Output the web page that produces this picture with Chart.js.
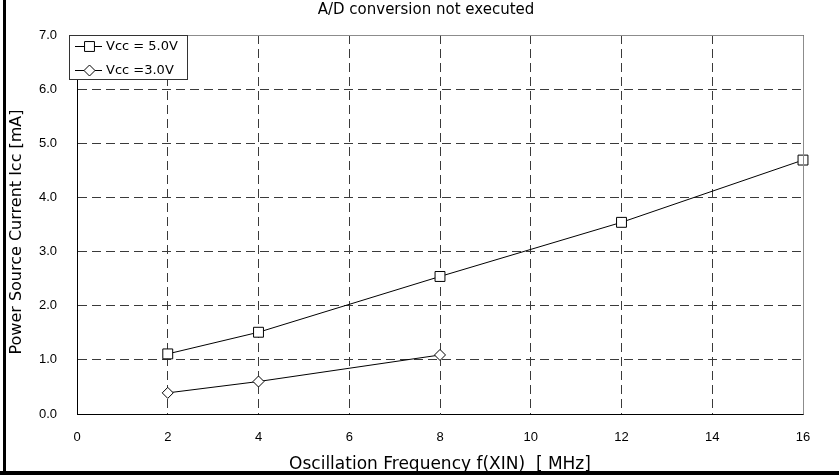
<!DOCTYPE html>
<html>
<head>
<meta charset="utf-8">
<script src="https://cdn.jsdelivr.net/npm/chart.js@4/dist/chart.umd.min.js"></script>
<style>
  html, body { margin: 0; padding: 0; background: #fff; }
  #wrap { width: 839px; height: 475px; position: relative; }
</style>
</head>
<body>
<div id="wrap"><canvas id="c" width="839" height="475"></canvas></div>
<script>
// ---- data ----
const chartTitle = "A/D conversion not executed";
const xTitle = "Oscillation Frequency f(XIN)  [ MHz]";
const yTitle = "Power Source Current Icc [mA]";
const seriesLabels = ["Vcc = 5.0V", "Vcc =3.0V"];
const freq5 = [2, 4, 8, 12, 16];
const icc5 = [1.11, 1.51, 2.54, 3.54, 4.69];
const freq3 = [2, 4, 8];
const icc3 = [0.39, 0.60, 1.09];
const xTicks = [0, 2, 4, 6, 8, 10, 12, 14, 16];
const yTicks = [0, 1, 2, 3, 4, 5, 6, 7];

const SANS = "'Liberation Sans', Arial, sans-serif";
const WIDE = "'DejaVu Sans', sans-serif";

function toPts(xs, ys) { return xs.map((x, i) => ({ x: x, y: ys[i] })); }

const frameAndLegend = {
  id: 'frameAndLegend',
  beforeDraw(chart) {
    const ctx = chart.ctx;
    ctx.save();
    ctx.fillStyle = '#fff';
    ctx.fillRect(0, 0, chart.width, chart.height);
    ctx.restore();
  },
  afterDraw(chart) {
    const ctx = chart.ctx;
    const a = chart.chartArea;
    ctx.save();
    // chart title
    ctx.fillStyle = '#000';
    ctx.font = '15px ' + WIDE;
    ctx.textAlign = 'center';
    ctx.textBaseline = 'middle';
    ctx.fillText(chartTitle, 426, 10);

    // y axis title (rotated)
    ctx.save();
    ctx.translate(17, 232);
    ctx.rotate(-Math.PI / 2);
    ctx.font = '16px ' + WIDE;
    ctx.textAlign = 'center';
    ctx.textBaseline = 'middle';
    ctx.fillText(yTitle, 0, 0);
    ctx.restore();

    // top & right plot edges (gray)
    ctx.strokeStyle = '#8c8c8c';
    ctx.lineWidth = 1;
    ctx.setLineDash([]);
    ctx.beginPath();
    ctx.moveTo(Math.round(a.left) + 0.5, Math.round(a.top) + 0.5);
    ctx.lineTo(Math.round(a.right) + 0.5, Math.round(a.top) + 0.5);
    ctx.lineTo(Math.round(a.right) + 0.5, Math.round(a.bottom) + 0.5);
    ctx.stroke();
    // outer frame: left and bottom thick black
    ctx.fillStyle = '#000';
    ctx.fillRect(3, 0, 3, chart.height);
    ctx.fillRect(0, 471, chart.width, 4);

    // legend box
    const bx = 69.5, by = 35.5, bw = 118, bh = 44;
    ctx.fillStyle = '#fff';
    ctx.fillRect(bx, by, bw, bh);
    ctx.strokeStyle = '#333';
    ctx.lineWidth = 1;
    ctx.strokeRect(bx, by, bw, bh);
    const rows = [46.5, 70.5];
    chart.data.datasets.forEach((ds, i) => {
      const y = rows[i];
      ctx.strokeStyle = '#000';
      ctx.lineWidth = 1;
      ctx.beginPath();
      ctx.moveTo(75, y);
      ctx.lineTo(102, y);
      ctx.stroke();
      ctx.fillStyle = '#fff';
      ctx.beginPath();
      const cx = 89.5;
      if (ds.pointStyle === 'rect') {
        const s = ds.pointRadius * Math.SQRT1_2;
        ctx.rect(cx - s, y - s, 2 * s, 2 * s);
      } else {
        const r = ds.pointRadius;
        ctx.moveTo(cx, y - r);
        ctx.lineTo(cx + r, y);
        ctx.lineTo(cx, y + r);
        ctx.lineTo(cx - r, y);
        ctx.closePath();
      }
      ctx.fill();
      ctx.stroke();
      ctx.fillStyle = '#000';
      ctx.font = '13px ' + WIDE;
      ctx.textBaseline = 'middle';
      ctx.textAlign = 'left';
      ctx.fillText(ds.label, 106, y + 0.5);
    });
    ctx.restore();
  }
};

const gridDash = [9, 5];

new Chart(document.getElementById('c'), {
  type: 'scatter',
  data: {
    datasets: [
      {
        label: seriesLabels[0],
        data: toPts(freq5, icc5),
        showLine: true,
        borderColor: '#000',
        borderWidth: 1,
        backgroundColor: '#fff',
        pointStyle: 'rect',
        pointRadius: 7,
        pointBorderWidth: 1,
        pointBorderColor: '#000',
        pointBackgroundColor: '#fff',
        clip: false,
        tension: 0
      },
      {
        label: seriesLabels[1],
        data: toPts(freq3, icc3),
        showLine: true,
        borderColor: '#000',
        borderWidth: 1,
        backgroundColor: '#fff',
        pointStyle: 'rectRot',
        pointRadius: 5.5,
        pointBorderWidth: 1,
        pointBorderColor: '#000',
        pointBackgroundColor: '#fff',
        clip: false,
        tension: 0
      }
    ]
  },
  options: {
    responsive: false,
    animation: false,
    devicePixelRatio: 1,
    layout: { padding: { left: 0, right: 36, top: 35, bottom: 0 } },
    plugins: {
      legend: { display: false },
      tooltip: { enabled: false },
      title: { display: false }
    },
    scales: {
      x: {
        type: 'linear',
        min: 0, max: 16,
        afterFit(scale) { scale.height = 61; },
        afterBuildTicks(scale) { scale.ticks = xTicks.map(v => ({ value: v })); },
        ticks: {
          color: '#000',
          font: { family: SANS, size: 13 },
          padding: 16,
          maxRotation: 0,
          callback: v => String(v)
        },
        grid: {
          color: '#3a3a3a',
          lineWidth: 1,
          drawTicks: false
        },
        border: { display: true, color: '#000', width: 1, dash: gridDash },
        title: {
          display: true,
          text: xTitle,
          color: '#000',
          font: { family: WIDE, size: 17, lineHeight: 1.2 },
          padding: { top: 0, bottom: 0 }
        }
      },
      y: {
        type: 'linear',
        min: 0, max: 7,
        afterFit(scale) { scale.width = 77; },
        afterBuildTicks(scale) { scale.ticks = yTicks.map(v => ({ value: v })); },
        ticks: {
          color: '#000',
          font: { family: SANS, size: 13 },
          padding: 20,
          callback: v => Number(v).toFixed(1)
        },
        grid: {
          color: '#3a3a3a',
          lineWidth: 1,
          drawTicks: false
        },
        border: { display: true, color: '#000', width: 1, dash: gridDash },
        title: { display: false, text: yTitle }
      }
    }
  },
  plugins: [frameAndLegend]
});
</script>
</body>
</html>
